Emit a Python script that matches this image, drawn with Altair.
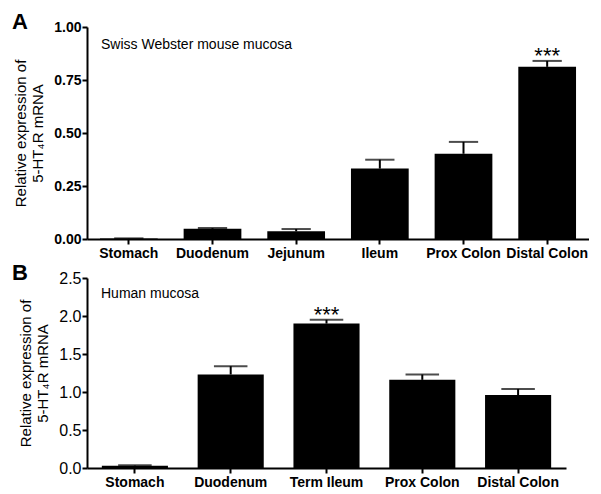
import altair as alt
import pandas as pd

FONT = "Liberation Sans"

# Panel A: Swiss Webster mouse mucosa
a_regions = ["Stomach", "Duodenum", "Jejunum", "Ileum", "Prox Colon", "Distal Colon"]
a_means = [0.002, 0.048, 0.036, 0.332, 0.402, 0.812]
a_err = [0.003, 0.052, 0.047, 0.374, 0.458, 0.840]
a_stars = ["", "", "", "", "", "***"]
a_ticks = [0, 0.25, 0.5, 0.75, 1.0]

# Panel B: Human mucosa
b_regions = ["Stomach", "Duodenum", "Term Ileum", "Prox Colon", "Distal Colon"]
b_means = [0.03, 1.23, 1.90, 1.16, 0.96]
b_err = [0.035, 1.34, 1.95, 1.23, 1.04]
b_stars = ["", "", "***", "", ""]
b_ticks = [0, 0.5, 1.0, 1.5, 2.0, 2.5]

ytitle = ["Relative expression of", "5-HT\u2084R mRNA"]


def panel(regions, means, errs, stars, ticks, fmt, dmax, w, h, letter, note,
          label_bold, label_size, note_y):
    df = pd.DataFrame({"region": regions, "mean": means, "err": errs, "stars": stars})
    x = alt.X("region:N", sort=regions, title=None,
              scale=alt.Scale(paddingInner=0.31, paddingOuter=0.155),
              axis=alt.Axis(labelAngle=0, labelFont=FONT, labelFontSize=14,
                            labelFontWeight="bold", labelColor="black",
                            domainColor="black", domainWidth=2, tickColor="black",
                            tickWidth=2, tickSize=5, labelPadding=2, labelOverlap=False))
    yaxis = alt.Axis(values=ticks, format=fmt, labelFont=FONT, labelFontSize=label_size,
                     labelFontWeight="bold" if label_bold else "normal",
                     labelColor="black", domainColor="black", domainWidth=2,
                     tickColor="black", tickWidth=2, tickSize=5, grid=False,
                     labelOverlap=False, labelFlush=False,
                     titleFont=FONT, titleFontSize=15, titleFontWeight="normal",
                     titleColor="black", titlePadding=8, labelPadding=1)
    yscale = alt.Scale(domain=[0, dmax], nice=False)

    def yenc(field):
        return alt.Y(field, title=ytitle, scale=yscale, axis=yaxis)

    base = alt.Chart(df)
    bars = base.mark_bar(color="black").encode(x=x, y=yenc("mean:Q"))
    whisk = base.mark_rule(color="black", strokeWidth=2).encode(x=x, y=yenc("mean:Q"), y2="err:Q")
    cap = base.mark_tick(color="black", thickness=2, size=w / len(regions) * 0.35).encode(
        x=x, y=yenc("err:Q"))
    star = base.mark_text(font=FONT, fontSize=22, dy=-5,
                          baseline="middle", color="black").encode(x=x, y=yenc("err:Q"), text="stars:N")
    lab = alt.Chart(pd.DataFrame({"t": [letter]})).mark_text(
        font=FONT, fontSize=22, fontWeight="bold", align="center", baseline="middle",
        color="black").encode(x=alt.value(-67), y=alt.value(-5), text="t:N")
    nt = alt.Chart(pd.DataFrame({"t": [note]})).mark_text(
        font=FONT, fontSize=14, align="left", baseline="middle",
        color="black").encode(x=alt.value(14), y=alt.value(note_y), text="t:N")
    return alt.layer(bars, whisk, cap, star, lab, nt).properties(width=w, height=h)


chA = panel(a_regions, a_means, a_err, a_stars, a_ticks, ".2f", 1.0,
            502, 212, "A", "Swiss Webster mouse mucosa", True, 14, 18)
chB = panel(b_regions, b_means, b_err, b_stars, b_ticks, ".1f", 2.5,
            479, 190, "B", "Human mucosa", False, 16, 16)

chart = alt.vconcat(chA, chB, spacing=2).properties(
    padding={"left": 4, "top": 3, "right": 0, "bottom": 0},
    background="white",
).configure_view(stroke=None)

chart.save("out.html", embed_options={"renderer": "svg", "actions": False})
